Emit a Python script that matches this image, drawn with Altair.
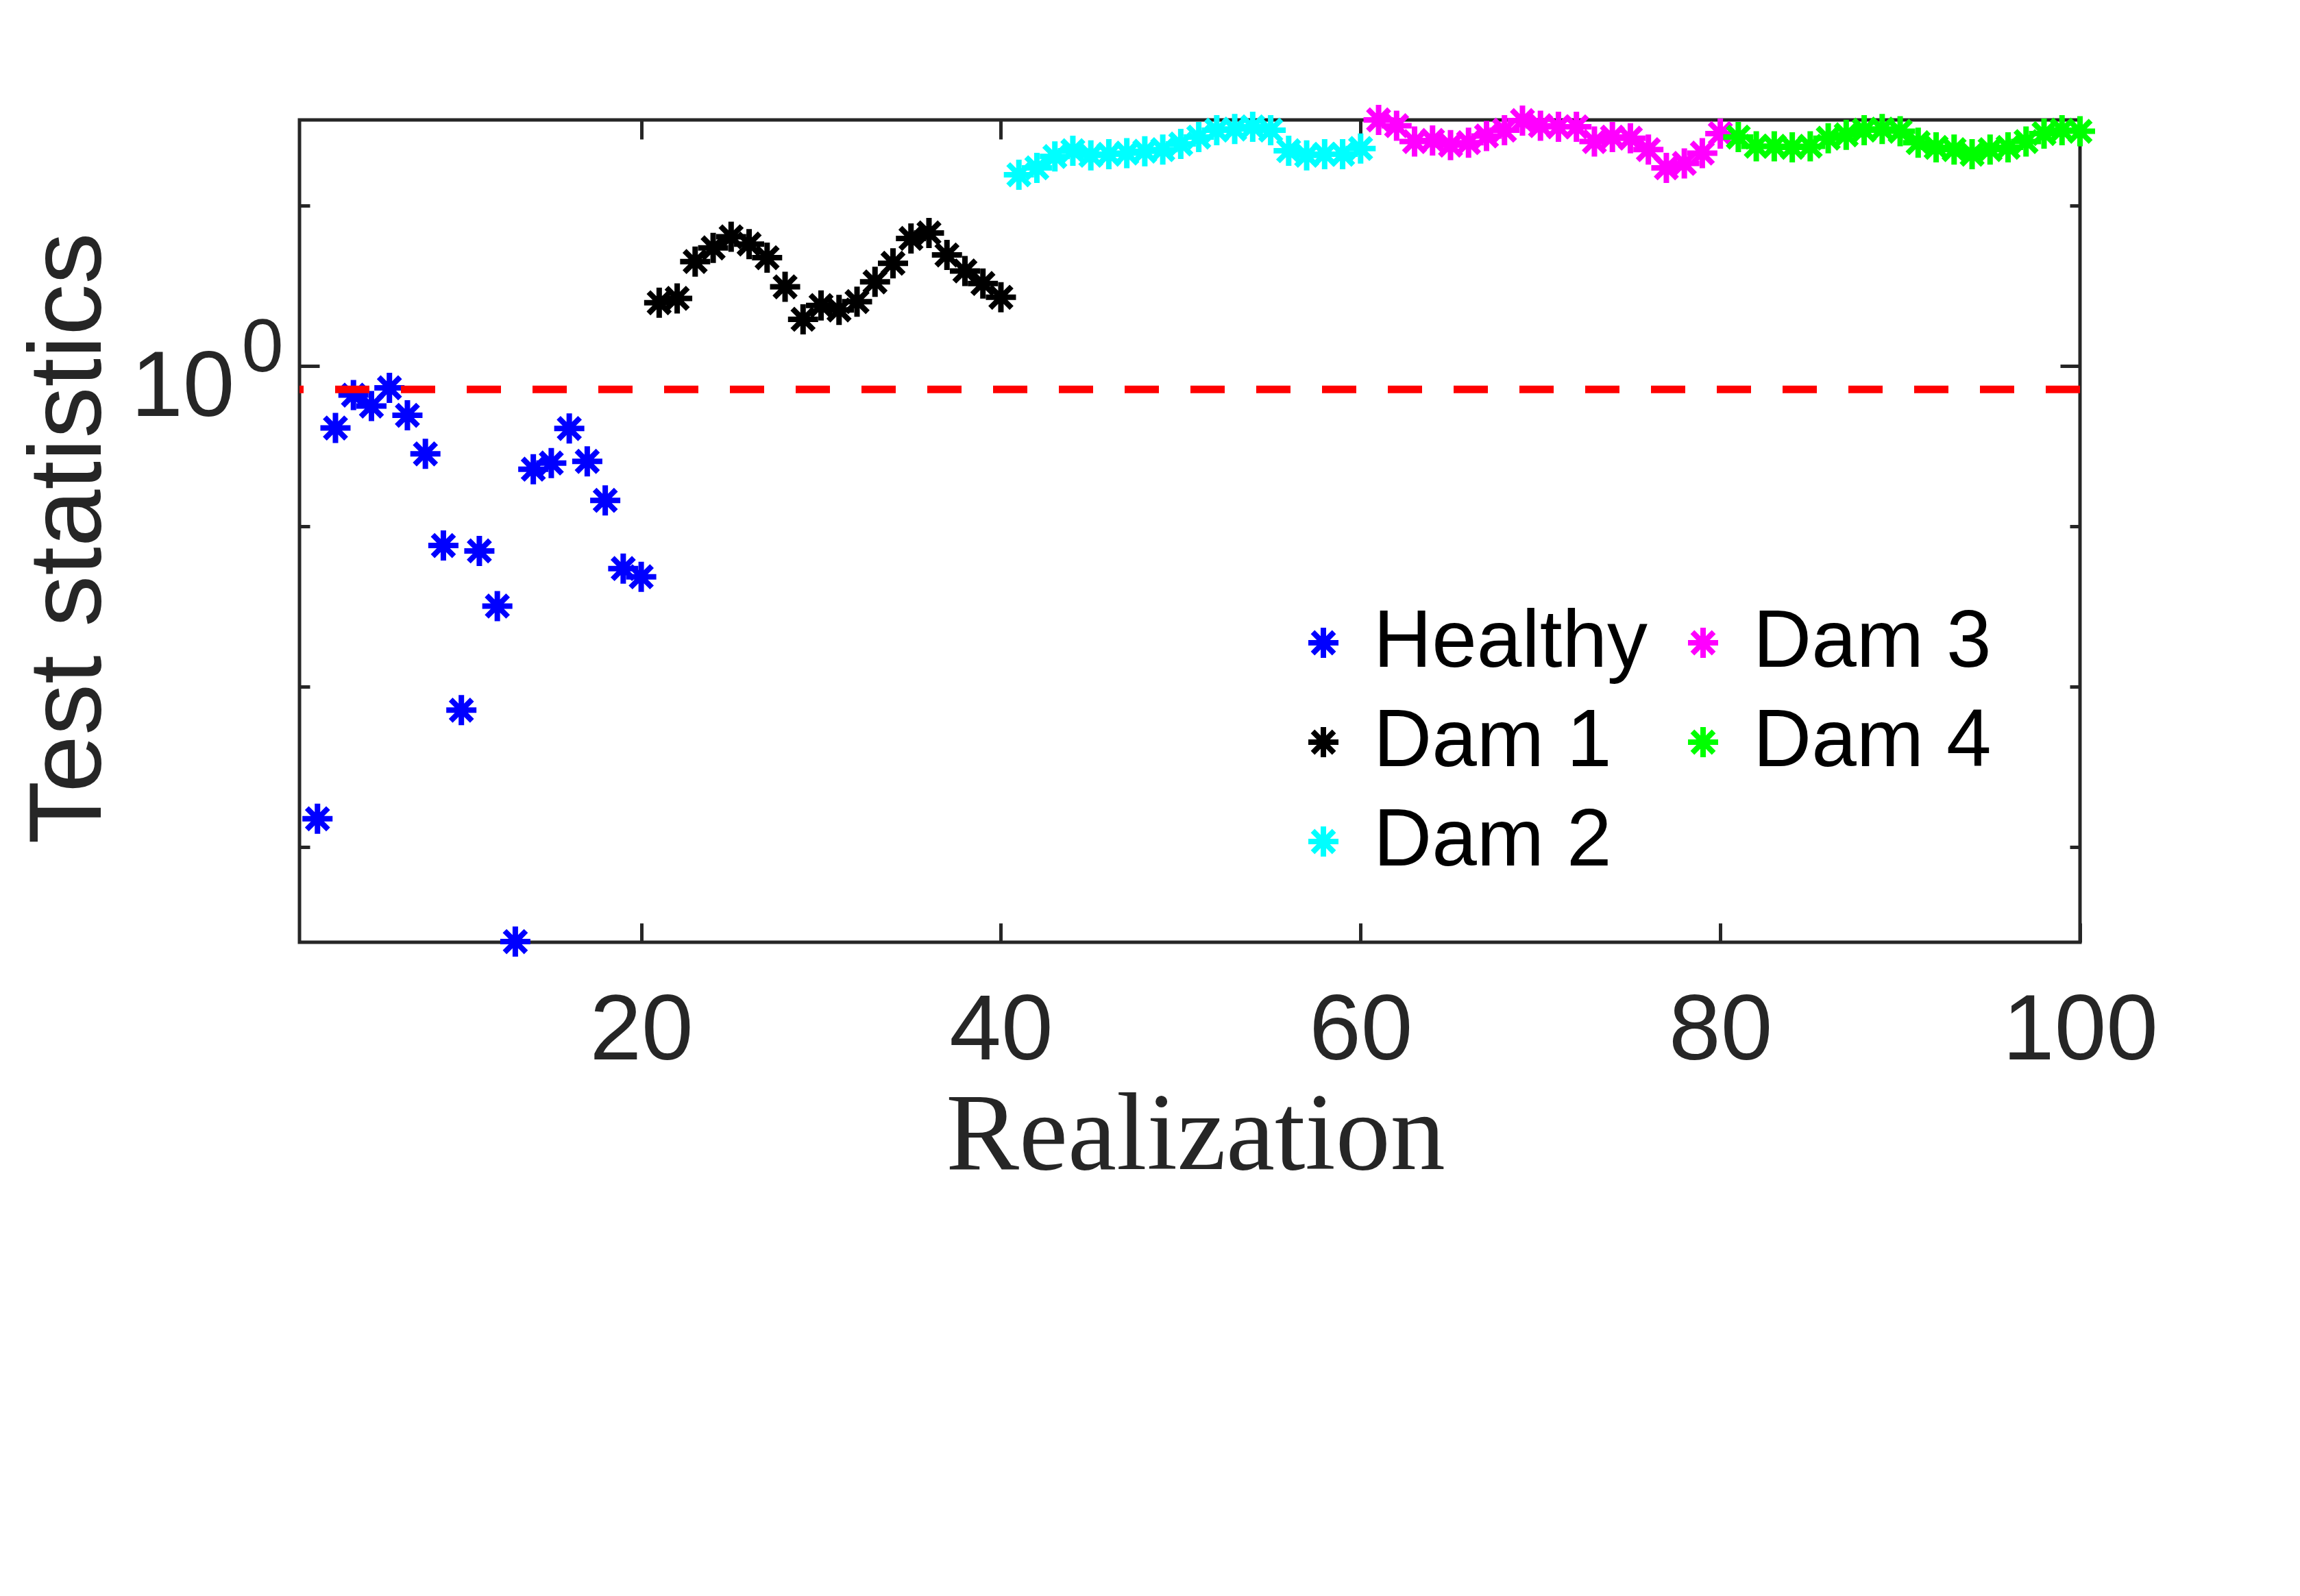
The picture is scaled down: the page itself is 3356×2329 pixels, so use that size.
import altair as alt
import pandas as pd

DARK = "#262626"
SANS = "Liberation Sans"
SERIF = "Liberation Serif"
STAR = "M0,-1L0,1M-1,0L1,0M-0.7071,-0.7071L0.7071,0.7071M-0.7071,0.7071L0.7071,-0.7071"

# ---- data ----
healthy_x = list(range(2, 21))
healthy_y = [0.0015, 0.410, 0.658, 0.562, 0.730, 0.492, 0.283, 0.0759, 0.00713,
             0.0702, 0.0318, 0.000257, 0.227, 0.248, 0.407, 0.254, 0.145, 0.0545, 0.0484]
dam1_x = list(range(21, 41))
dam1_y = [2.477, 2.636, 4.477, 5.445, 6.383, 5.754, 4.732, 3.112, 1.954, 2.382,
          2.234, 2.518, 3.342, 4.365, 6.237, 6.745, 4.920, 3.908, 3.266, 2.679]
dam2_x = list(range(41, 61))
dam2_y = [15.56, 17.18, 20.23, 21.98, 20.56, 20.89, 21.23, 21.83, 22.34, 24.21,
          26.73, 29.51, 29.99, 30.97, 29.51, 21.98, 20.56, 20.89, 20.89, 22.70]
dam3_x = list(range(61, 81))
dam3_y = [34.20, 31.48, 25.06, 25.47, 23.82, 24.66, 27.16, 29.51, 33.88, 31.48,
          30.97, 30.97, 25.06, 26.73, 26.30, 22.34, 17.18, 18.32, 21.23, 28.12]
dam4_x = list(range(81, 101))
dam4_y = [26.73, 23.44, 23.44, 23.07, 23.44, 26.30, 27.61, 29.51, 29.99, 29.04,
          24.66, 23.07, 22.34, 20.89, 22.34, 23.07, 25.06, 28.12, 29.51, 29.04]
threshold = [0.713]

group_names = ["Healthy", "Dam 1", "Dam 2", "Dam 3", "Dam 4"]
group_colors = ["#0000FF", "#000000", "#00FFFF", "#FF00FF", "#00FF00"]
x_ticks = [20, 40, 60, 80, 100]
y_minor_ticks = [1e-3, 1e-2, 1e-1, 10]
y_major_ticks = [1]
X_DOMAIN = [1, 100]
Y_DOMAIN = [2.547e-4, 34.2]

rows = []
for name, xs_, ys_ in zip(group_names,
                          [healthy_x, dam1_x, dam2_x, dam3_x, dam4_x],
                          [healthy_y, dam1_y, dam2_y, dam3_y, dam4_y]):
    for a, b in zip(xs_, ys_):
        rows.append({"realization": a, "value": b, "group": name})
df = pd.DataFrame(rows)
thr_df = pd.DataFrame({"thr": threshold})

xs = alt.Scale(domain=X_DOMAIN, nice=False, zero=False)
ys = alt.Scale(type="log", domain=Y_DOMAIN, nice=False)

common_axis = dict(domain=False, grid=False, tickColor=DARK, tickWidth=5)

pts = alt.Chart(df).mark_point(
    shape=STAR, filled=False, strokeWidth=8, size=1936, opacity=1
).encode(
    x=alt.X("realization:Q", scale=xs, axis=alt.Axis(
        orient="bottom", values=x_ticks, tickSize=28, offset=-28,
        labelFontSize=136, labelFont=SANS, labelColor=DARK, labelPadding=63,
        labelFlush=False, labelOverlap=False, labelLimit=1000,
        title="Realization", titleFont=SERIF, titleFontSize=160, titleFontWeight="normal",
        titleColor=DARK, titleX=1307, titleY=358, titleAlign="center",
        titleBaseline="alphabetic", **common_axis)),
    y=alt.Y("value:Q", scale=ys, axis=alt.Axis(
        orient="left", values=y_minor_ticks, tickSize=15, offset=-15, labels=False,
        title="Test statistics", titleFont=SANS, titleFontSize=150, titleFontWeight="normal",
        titleColor=DARK, titleX=-306, titleY=610, titleAngle=270, titleAlign="center",
        titleBaseline="alphabetic", **common_axis)),
    color=alt.Color("group:N", scale=alt.Scale(domain=group_names, range=group_colors),
                    legend=alt.Legend(
                        orient="none", legendX=1435, legendY=704, columns=2, title=None,
                        symbolType=STAR, symbolSize=1936, symbolStrokeWidth=8,
                        symbolOpacity=1,
                        labelFontSize=118, labelFont=SANS, labelColor="#000000",
                        labelOffset=14, labelLimit=2000, rowPadding=27, columnPadding=21,
                        padding=0)),
)

rule = alt.Chart(thr_df).mark_rule(color="#FF0000", strokeWidth=11, strokeDash=[50, 46]).encode(
    y=alt.Y("thr:Q", scale=ys, axis=alt.Axis(
        orient="left", values=y_major_ticks, tickSize=29, offset=-29,
        labelExpr="'10'", labelFontSize=136, labelFont=SANS, labelColor=DARK,
        labelAlign="right", labelBaseline="alphabetic", labelOffset=73, labelPadding=95,
        labelLimit=1000, title=None, **common_axis))
)

sup = alt.Chart(thr_df).mark_rule(opacity=0).encode(
    y=alt.Y("thr:Q", scale=ys, axis=alt.Axis(
        orient="left", values=y_major_ticks, ticks=False, tickSize=0,
        labelExpr="'0'", labelFontSize=110, labelFont=SANS, labelColor=DARK,
        labelAlign="left", labelBaseline="alphabetic", labelOffset=8, labelPadding=85,
        labelLimit=1000, title=None, domain=False, grid=False))
)

top_right = alt.Chart(df).mark_point(opacity=0).encode(
    x=alt.X("realization:Q", scale=xs, axis=alt.Axis(
        orient="top", values=x_ticks, tickSize=28, offset=-28, labels=False,
        title=None, **common_axis)),
    y=alt.Y("value:Q", scale=ys, axis=alt.Axis(
        orient="right", values=y_minor_ticks, tickSize=15, offset=-15, labels=False,
        title=None, **common_axis)),
)

right_major = alt.Chart(thr_df).mark_rule(opacity=0).encode(
    y=alt.Y("thr:Q", scale=ys, axis=alt.Axis(
        orient="right", values=y_major_ticks, tickSize=29, offset=-29, labels=False,
        title=None, **common_axis))
)

chart = alt.layer(pts, rule, sup, top_right, right_major).resolve_axis(
    x="independent", y="independent"
).properties(
    width=2598, height=1200,
    padding={"left": 429, "top": 167, "right": 300, "bottom": 900},
    autosize=alt.AutoSizeParams(type="none"),
    background="white",
).configure_view(stroke=DARK, strokeWidth=5)

chart.save("out.html", embed_options={"renderer": "svg", "actions": False})
